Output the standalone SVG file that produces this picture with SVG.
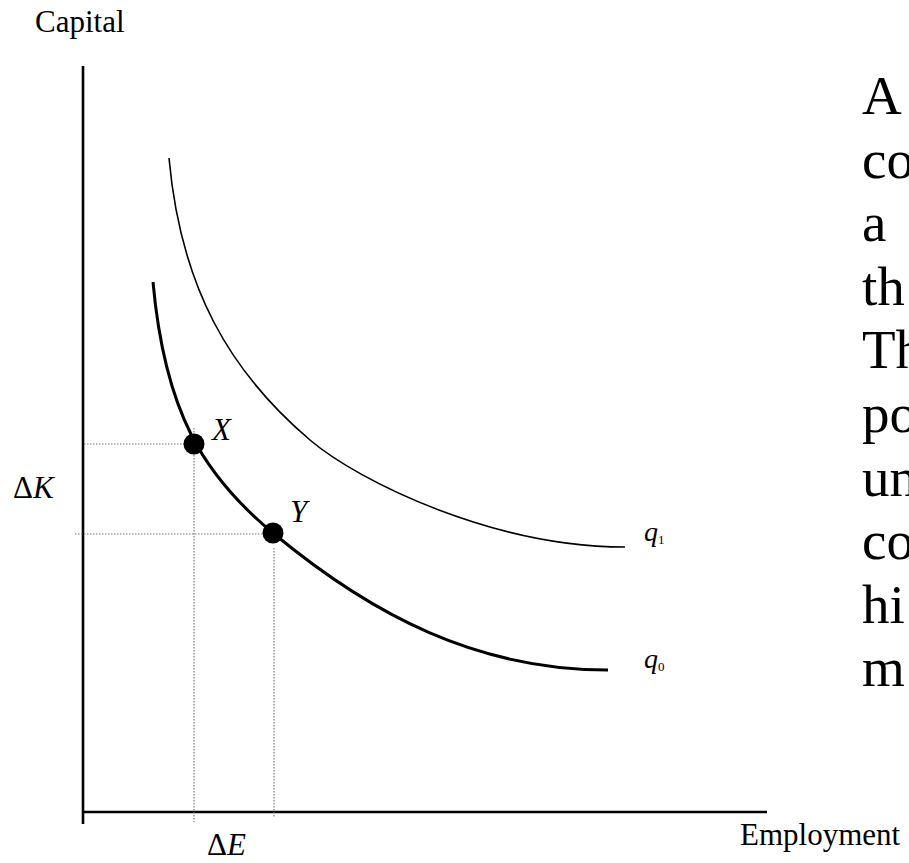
<svg xmlns="http://www.w3.org/2000/svg" width="909" height="863" viewBox="0 0 909 863">
<style>
text{font-family:"Liberation Serif","Times New Roman",Tinos,"DejaVu Serif",serif;fill:#000}
.lbl{font-size:31px}
.it{font-style:italic}
.big{font-size:55px}
.axis{stroke:#000;stroke-width:2.6;fill:none}
.dot{stroke:#777;stroke-width:1.2;stroke-dasharray:1.5 1.5;fill:none}
.curve{stroke:#000;fill:none;stroke-linecap:butt}
</style>
<g id="axes">
<line class="axis" x1="83" y1="66" x2="83" y2="824"/>
<line class="axis" x1="82" y1="812" x2="767" y2="812"/>
</g>
<g id="guides">
<line class="dot" x1="84" y1="444" x2="194" y2="444"/>
<line class="dot" x1="75" y1="534" x2="273" y2="534"/>
<line class="dot" x1="194" y1="428" x2="194" y2="822"/>
<line class="dot" x1="274" y1="548" x2="274" y2="818"/>
</g>
<g id="q0">
<path class="curve" stroke-width="3" d="M153,282 C164.7,412 203,474.9 273,533 C373,616 478,670 608,670"/>
<text class="it" x="644" y="668" font-size="28">q<tspan font-style="normal" font-size="13" dy="3">0</tspan></text>
</g>
<g id="q1">
<path class="curve" stroke-width="1.6" d="M169,158 C180.7,288 230,372 310,440 C360,482.5 495,547 625,547"/>
<text class="it" x="644" y="541" font-size="28">q<tspan font-style="normal" font-size="13" dy="3">1</tspan></text>
</g>
<g id="pointX">
<circle cx="194" cy="444" r="10.5"/>
<text class="lbl it" x="212" y="440">X</text>
</g>
<g id="pointY">
<circle cx="273" cy="533" r="10.5"/>
<text class="lbl it" x="290" y="522">Y</text>
</g>
<g id="labels">
<text class="lbl" x="35" y="32">Capital</text>
<text class="lbl" x="740" y="845">Employment</text>
<text class="lbl" x="13" y="498">Δ<tspan class="it">K</tspan></text>
<text class="lbl" x="207" y="855">Δ<tspan class="it">E</tspan></text>
</g>
<g id="sidetext" class="big">
<text x="862" y="114">A</text>
<text x="862" y="178">co</text>
<text x="862" y="241">a</text>
<text x="862" y="305">th</text>
<text x="862" y="368">Th</text>
<text x="862" y="432">po</text>
<text x="862" y="496">un</text>
<text x="862" y="559">co</text>
<text x="862" y="623">hi</text>
<text x="862" y="686">m</text>
</g>
</svg>
